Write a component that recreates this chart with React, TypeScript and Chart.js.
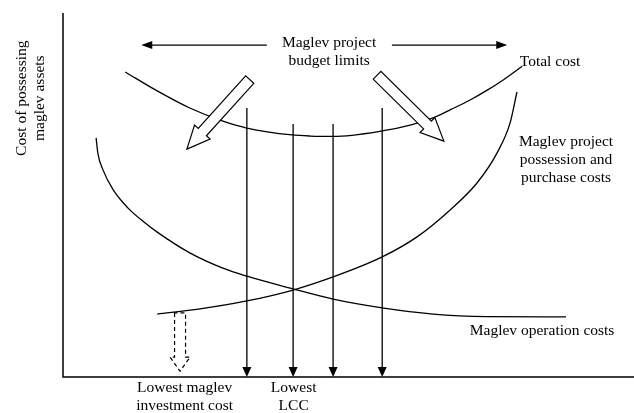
import React, { useEffect, useRef } from "react";
import { Chart, registerables } from "chart.js";
Chart.register(...registerables);

// Curves (x: 0-100 along the investment axis, y: 0-100 cost)
const totalCostX = [10.9, 16.5, 22.2, 28.0, 32.2, 40.1, 43.3, 47.3, 55.9, 60.8, 64.8, 67.8, 71.3, 74.3, 77.1, 78.8, 80.4];
const totalCostY = [83.8, 78.6, 73.9, 70.3, 68.4, 66.5, 66.2, 66.1, 67.6, 69.2, 71.2, 73.4, 76.1, 78.8, 81.6, 83.5, 85.4];

const operationX = [5.8, 6.1, 7.0, 8.8, 11.4, 14.4, 16.5, 22.2, 28.0, 32.2, 40.3, 47.3, 55.9, 64.8, 74.3, 88.1];
const operationY = [65.7, 61.5, 56.9, 51.4, 46.4, 42.3, 39.8, 34.1, 29.9, 27.7, 24.2, 21.4, 19.0, 17.3, 16.6, 16.5];

const possessionX = [16.5, 24.0, 32.2, 40.3, 47.3, 55.9, 62.0, 67.8, 72.5, 76.0, 78.3, 79.5];
const possessionY = [17.3, 18.7, 20.9, 23.9, 27.5, 33.0, 38.5, 45.9, 53.3, 61.5, 69.8, 78.3];

// Vertical budget markers
const markerX = [32.2, 40.3, 47.3, 55.9];
const markerTop = [73.9, 69.5, 69.5, 73.9];

// Budget limit double arrow: [fromX, toX, y]
const budgetArrowLeft = [35.7, 13.7, 91.2];
const budgetArrowRight = [57.6, 77.8, 91.2];

// Block arrows: [tailX, tailY, tipX, tipY]
const blockArrowLeft = [32.7, 81.7, 21.7, 62.6];
const blockArrowRight = [55.0, 82.9, 66.7, 64.8];
const dashedArrow = [20.5, 17.6, 20.5, 1.6];

// Text labels
const labelText = [
  ["Maglev project", "budget limits"],
  ["Total cost"],
  ["Maglev project", "possession and", "purchase costs"],
  ["Maglev operation costs"],
  ["Lowest maglev", "investment cost"],
  ["Lowest", "LCC"],
];
const labelX = [46.6, 80.0, 88.1, 83.9, 21.3, 40.4];
const labelY = [91.8, 86.6, 64.6, 12.6, -3.0, -3.0];
const labelAlign = ["center", "left", "center", "center", "center", "center"];
const lineGap = 4.9; // in y units

const yTitle = ["Cost of possessing", "maglev assets"];
const yTitleX = [-7.2, -4.0];
const yTitleY = 76.6;

const FONT = '15.5px "Liberation Serif", "Times New Roman", serif';

function toPts(xs: number[], ys: number[]) {
  return xs.map((x, i) => ({ x, y: ys[i] }));
}

function drawBlockArrow(
  ctx: CanvasRenderingContext2D,
  x0: number, y0: number, x1: number, y1: number,
  shaftW: number, headW: number, headL: number, dashed: boolean
) {
  const dx = x1 - x0, dy = y1 - y0;
  const len = Math.hypot(dx, dy);
  const ux = dx / len, uy = dy / len;
  const nx = -uy, ny = ux;
  const bx = x1 - ux * headL, by = y1 - uy * headL;
  const pts = [
    [x0 + nx * shaftW / 2, y0 + ny * shaftW / 2],
    [bx + nx * shaftW / 2, by + ny * shaftW / 2],
    [bx + nx * headW / 2, by + ny * headW / 2],
    [x1, y1],
    [bx - nx * headW / 2, by - ny * headW / 2],
    [bx - nx * shaftW / 2, by - ny * shaftW / 2],
    [x0 - nx * shaftW / 2, y0 - ny * shaftW / 2],
  ];
  ctx.save();
  ctx.beginPath();
  ctx.moveTo(pts[0][0], pts[0][1]);
  for (let i = 1; i < pts.length; i++) ctx.lineTo(pts[i][0], pts[i][1]);
  ctx.closePath();
  ctx.fillStyle = "#ffffff";
  ctx.fill();
  ctx.strokeStyle = "#000";
  ctx.lineWidth = 1.2;
  ctx.lineJoin = "miter";
  if (dashed) ctx.setLineDash([4, 3]);
  ctx.stroke();
  ctx.restore();
}

function drawHead(ctx: CanvasRenderingContext2D, tx: number, ty: number, ux: number, uy: number, L: number, W: number) {
  const nx = -uy, ny = ux;
  const bx = tx - ux * L, by = ty - uy * L;
  ctx.beginPath();
  ctx.moveTo(tx, ty);
  ctx.lineTo(bx + nx * W / 2, by + ny * W / 2);
  ctx.lineTo(bx - nx * W / 2, by - ny * W / 2);
  ctx.closePath();
  ctx.fillStyle = "#000";
  ctx.fill();
}

const diagramPlugin = {
  id: "diagram",
  afterDatasetsDraw(chart: any) {
    const ctx: CanvasRenderingContext2D = chart.ctx;
    const xs = chart.scales.x, ys = chart.scales.y;
    const px = (v: number) => xs.getPixelForValue(v);
    const py = (v: number) => ys.getPixelForValue(v);
    const area = chart.chartArea;
    ctx.save();
    // axes
    ctx.strokeStyle = "#000";
    ctx.lineWidth = 1.5;
    ctx.beginPath();
    ctx.moveTo(area.left, area.top);
    ctx.lineTo(area.left, area.bottom);
    ctx.lineTo(area.right, area.bottom);
    ctx.stroke();

    // vertical markers
    ctx.lineWidth = 1.3;
    markerX.forEach((mx, i) => {
      const x = px(mx);
      ctx.beginPath();
      ctx.moveTo(x, py(markerTop[i]));
      ctx.lineTo(x, py(0) - 8);
      ctx.stroke();
      drawHead(ctx, x, py(0), 0, 1, 10, 9);
    });

    // budget double arrow
    [budgetArrowLeft, budgetArrowRight].forEach((a) => {
      const x0 = px(a[0]), x1 = px(a[1]), y = py(a[2]);
      const dir = Math.sign(x1 - x0);
      ctx.lineWidth = 1.3;
      ctx.beginPath();
      ctx.moveTo(x0, y);
      ctx.lineTo(x1 - dir * 6, y);
      ctx.stroke();
      drawHead(ctx, x1, y, dir, 0, 11, 8);
    });

    // block arrows
    drawBlockArrow(ctx, px(blockArrowLeft[0]), py(blockArrowLeft[1]), px(blockArrowLeft[2]), py(blockArrowLeft[3]), 11, 21, 23, false);
    drawBlockArrow(ctx, px(blockArrowRight[0]), py(blockArrowRight[1]), px(blockArrowRight[2]), py(blockArrowRight[3]), 11, 21, 23, false);
    drawBlockArrow(ctx, px(dashedArrow[0]), py(dashedArrow[1]), px(dashedArrow[2]), py(dashedArrow[3]), 11, 20, 14, true);

    // labels
    ctx.font = FONT;
    ctx.fillStyle = "#000";
    ctx.textBaseline = "middle";
    labelText.forEach((lines, i) => {
      ctx.textAlign = labelAlign[i] as CanvasTextAlign;
      lines.forEach((t, j) => {
        ctx.fillText(t, px(labelX[i]), py(labelY[i] - j * lineGap));
      });
    });

    // y title (rotated)
    yTitle.forEach((t, i) => {
      ctx.save();
      ctx.translate(px(yTitleX[i]), py(yTitleY));
      ctx.rotate(-Math.PI / 2);
      ctx.textAlign = "center";
      ctx.textBaseline = "middle";
      ctx.fillText(t, 0, 0);
      ctx.restore();
    });
    ctx.restore();
  },
};

export default function App() {
  const ref = useRef<HTMLCanvasElement>(null);
  useEffect(() => {
    if (!ref.current) return;
    const lineDs = (data: any[]) => ({
      data,
      showLine: true,
      borderColor: "#000",
      borderWidth: 1.3,
      pointRadius: 0,
      cubicInterpolationMode: "monotone" as const,
      fill: false,
    });
    const chart = new Chart(ref.current, {
      type: "scatter",
      data: {
        datasets: [
          { label: "Total cost", ...lineDs(toPts(totalCostX, totalCostY)) },
          { label: "Maglev operation costs", ...lineDs(toPts(operationX, operationY)) },
          { label: "Maglev project possession and purchase costs", ...lineDs(toPts(possessionX, possessionY)) },
        ],
      },
      options: {
        animation: false,
        responsive: false,
        devicePixelRatio: 1,
        layout: { padding: { left: 63, top: 13, right: 0, bottom: 36 } },
        plugins: { legend: { display: false }, tooltip: { enabled: false } },
        scales: {
          x: { type: "linear", min: 0, max: 100, display: false },
          y: { type: "linear", min: 0, max: 100, display: false },
        },
      },
      plugins: [diagramPlugin],
    });
    return () => chart.destroy();
  }, []);
  return (
    <div style={{ position: "fixed", left: 0, top: 0, width: 634, height: 413, background: "#fff" }}>
      <canvas ref={ref} width={634} height={413} />
    </div>
  );
}
